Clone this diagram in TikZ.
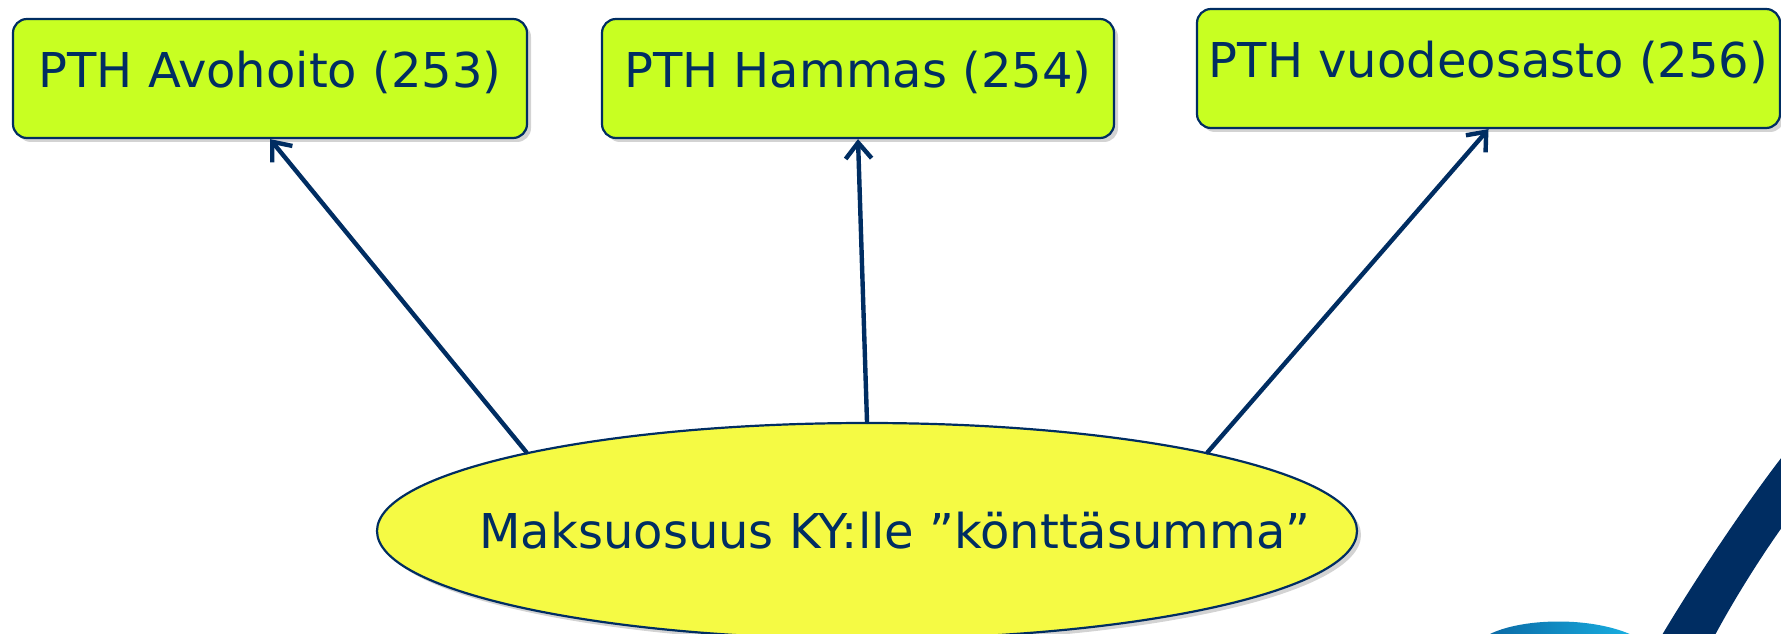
\documentclass[tikz,border=0pt]{standalone}
\usepackage{fontspec}
\setmainfont{DejaVu Sans}
\usetikzlibrary{shapes.geometric,arrows.meta,shadows}
\definecolor{tumma}{RGB}{0,45,98}
\definecolor{vihrea}{RGB}{200,255,34}
\definecolor{keltainen}{RGB}{245,250,68}
\definecolor{syaani}{RGB}{25,175,225}
\definecolor{petrooli}{RGB}{10,105,165}
\tikzset{
varjo/.style={drop shadow={shadow xshift=2pt,shadow yshift=-2pt,opacity=.35}},
laatikko/.style={draw=tumma,line width=1.1pt,fill=vihrea,rounded corners=7pt,text=tumma,
  font=\fontsize{24pt}{28pt}\selectfont,text height=34.5pt,text depth=25pt,inner sep=0pt,varjo},
soikio/.style={ellipse,draw=tumma,line width=1.1pt,fill=keltainen,text=tumma,
  font=\fontsize{24pt}{28pt}\selectfont,minimum width=490pt,minimum height=108pt,inner sep=0pt,varjo},
nuoli/.style={draw=tumma,line width=2.2pt,line cap=round,-{Straight Barb[length=8pt,width=13pt]}}
}
\begin{document}
\begin{tikzpicture}[x=0.5pt,y=0.5pt]
\clip(0,0)rectangle(1781,633);
\node[laatikko,minimum width=257pt](b253)at(270,554.5){PTH Avohoito (253)};
\node[laatikko,minimum width=256pt](b254)at(858,554.5){PTH Hammas (254)};
\node[laatikko,minimum width=291.5pt](b256)at(1488.5,564.5){PTH vuodeosasto (256)};
\node[soikio](ky)at(867,102){\makebox[0pt]{\hspace*{28pt}Maksuosuus KY:lle ”könttäsumma”}};
\draw[nuoli](ky.167)--(b253.south);
\draw[nuoli](ky.north)--(b254.south);
\draw[nuoli](ky.13)--(b256.south);
\fill[tumma](1662,-2).. controls (1690,45) and (1740,122) ..(1785,180)--(1785,110)
  .. controls (1760,75) and (1735,35) ..(1715,-2)--cycle;
\shade[left color=petrooli,right color=syaani](1488,-2).. controls (1520,15) and (1590,17) ..(1632,-2)--cycle;
\end{tikzpicture}
\end{document}
